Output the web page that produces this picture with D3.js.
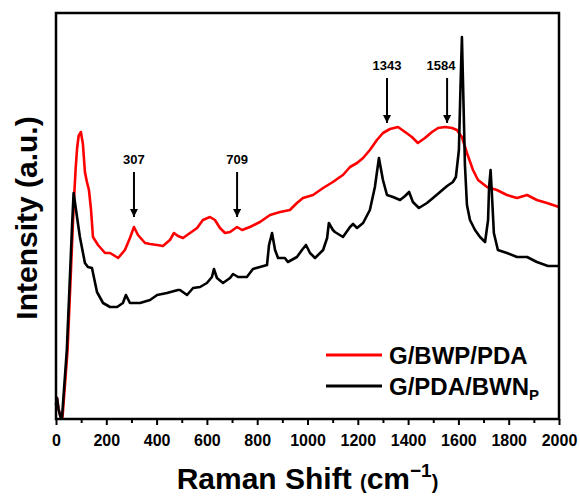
<!DOCTYPE html>
<html>
<head>
<meta charset="utf-8">
<script src="https://cdn.jsdelivr.net/npm/d3@7"></script>
<style>
    html, body { margin: 0; padding: 0; background: #fff; }
    #main { width: 580px; height: 497px; }
    text { font-family: "Liberation Sans", Arial, sans-serif; font-weight: bold; }
</style>
</head>
<body>
<div id="main"></div>
<script>
// spectra: [raman shift (cm-1), intensity (a.u.)]
const bwpPda = [
    [0, 14], [4, 21], [10, 10], [18, 2], [26, 2], [46, 69], [59, 146], [67, 194], [73, 226],
    [78, 250], [84, 271], [90, 283], [99, 287], [107, 275], [115, 247], [123, 237], [131, 229],
    [139, 210], [147, 182], [167, 174], [195, 166], [215, 166], [247, 161], [274, 169], [294, 181],
    [310, 192], [326, 184], [354, 176], [374, 175], [402, 174], [425, 173], [453, 179], [469, 186],
    [485, 183], [505, 181], [533, 186], [561, 191], [584, 199], [612, 202], [632, 199], [652, 191],
    [672, 186], [692, 187], [720, 192], [740, 189], [771, 192], [811, 197], [851, 204], [891, 207],
    [930, 209], [958, 216], [982, 221], [1022, 224], [1062, 231], [1101, 237], [1129, 242],
    [1141, 244], [1169, 252], [1197, 256], [1221, 261], [1248, 269], [1276, 279], [1300, 286],
    [1328, 290], [1360, 292], [1388, 287], [1415, 282], [1439, 276], [1467, 281], [1495, 287],
    [1519, 291], [1547, 292], [1575, 291], [1594, 289], [1614, 282], [1634, 266], [1658, 249],
    [1678, 239], [1714, 232], [1753, 229], [1793, 224], [1833, 221], [1873, 224], [1912, 219],
    [1952, 216], [2000, 212]
];

const pdaBwn = [
    [0, 14], [4, 21], [10, 10], [18, 2], [24, 2], [43, 69], [56, 146], [64, 194], [70, 226],
    [95, 182], [115, 156], [127, 152], [143, 151], [163, 127], [187, 116], [215, 112], [243, 112],
    [266, 116], [278, 124], [294, 116], [334, 116], [374, 119], [402, 124], [441, 126], [485, 129],
    [493, 129], [521, 124], [545, 131], [573, 132], [600, 136], [620, 142], [628, 150], [640, 141],
    [664, 136], [692, 141], [704, 145], [724, 142], [759, 142], [783, 150], [811, 152], [839, 154],
    [847, 174], [859, 186], [871, 169], [883, 161], [910, 161], [922, 157], [958, 162], [978, 169],
    [994, 174], [1010, 166], [1030, 161], [1062, 169], [1078, 181], [1085, 196], [1101, 189],
    [1109, 187], [1141, 182], [1169, 192], [1181, 195], [1197, 191], [1221, 196], [1248, 209],
    [1268, 232], [1284, 261], [1300, 239], [1316, 224], [1340, 222], [1368, 219], [1388, 223],
    [1404, 227], [1419, 217], [1443, 211], [1475, 216], [1499, 221], [1527, 227], [1555, 233],
    [1578, 237], [1590, 242], [1602, 269], [1608, 329], [1614, 382], [1620, 319], [1626, 254],
    [1634, 214], [1646, 199], [1666, 189], [1686, 182], [1706, 177], [1718, 199], [1722, 232],
    [1728, 249], [1733, 226], [1741, 186], [1757, 169], [1793, 166], [1833, 162], [1873, 162],
    [1912, 157], [1956, 153], [2000, 153]
];

const seriesNames = ["G/BWP/PDA", "G/PDA/BWN"];
const seriesSub = ["", "P"];
const seriesColors = ["#ff0000", "#000000"];

const xMajorTicks = [0, 200, 400, 600, 800, 1000, 1200, 1400, 1600, 1800, 2000];
const xMinorTicks = [100, 300, 500, 700, 900, 1100, 1300, 1500, 1700, 1900];

// arrow annotations
const peakLabels = ["307", "709", "1343", "1584"];
const peakArrowAt = [310, 720, 1316, 1555];
const peakArrowTop = [247, 247, 341, 341];
const peakArrowTip = [202, 202, 296, 296];

const chartCtx = {
    WIDTH: 580,
    HEIGHT: 497,
    LEFT: 56,
    TOP: 13,
    RIGHT: 559,
    BOTTOM: 419,
    LINE_WIDTH: 2.6
};

function drawChart() {

    let svg = d3.select("#main").append("svg")
        .attr("width", chartCtx.WIDTH)
        .attr("height", chartCtx.HEIGHT);

    let x = d3.scaleLinear().domain([0, 2000]).range([chartCtx.LEFT, chartCtx.RIGHT]);
    let y = d3.scaleLinear().domain([0, 406]).range([chartCtx.BOTTOM, chartCtx.TOP]);

    let line = d3.line()
        .x(d => x(d[0]))
        .y(d => y(d[1]));

    let plotG = svg.append("g");

    [bwpPda, pdaBwn].forEach(function(series, i) {
        plotG.append("path")
            .datum(series)
            .attr("d", line)
            .attr("fill", "none")
            .attr("stroke", seriesColors[i])
            .attr("stroke-width", chartCtx.LINE_WIDTH)
            .attr("stroke-linejoin", "round");
    });

    // frame
    svg.append("rect")
        .attr("x", chartCtx.LEFT)
        .attr("y", chartCtx.TOP)
        .attr("width", chartCtx.RIGHT - chartCtx.LEFT)
        .attr("height", chartCtx.BOTTOM - chartCtx.TOP)
        .attr("fill", "none")
        .attr("stroke", "#000")
        .attr("stroke-width", 2.5);

    let xAxis = svg.append("g")
        .attr("transform", `translate(0,${chartCtx.BOTTOM})`)
        .call(d3.axisBottom(x).tickValues(xMajorTicks).tickSize(6).tickPadding(10).tickFormat(d3.format("d")));
    xAxis.select(".domain").remove();
    xAxis.selectAll("line").attr("stroke-width", 2);
    xAxis.selectAll("text")
        .attr("font-size", 16)
        .attr("font-family", "Liberation Sans, Arial, sans-serif")
        .attr("font-weight", "bold")
        .attr("fill", "#000");

    let xMinor = svg.append("g")
        .attr("transform", `translate(0,${chartCtx.BOTTOM})`)
        .call(d3.axisBottom(x).tickValues(xMinorTicks).tickSize(4).tickFormat(""));
    xMinor.select(".domain").remove();
    xMinor.selectAll("line").attr("stroke-width", 2);

    // axis titles
    let xTitle = svg.append("text")
        .attr("x", (chartCtx.LEFT + chartCtx.RIGHT) / 2)
        .attr("y", 489)
        .attr("text-anchor", "middle")
        .attr("font-size", 30);
    xTitle.append("tspan").text("Raman Shift ");
    xTitle.append("tspan").attr("font-size", 20).text("(");
    xTitle.append("tspan").text("cm");
    xTitle.append("tspan").attr("font-size", 19).attr("dy", -12).text("\u22121");
    xTitle.append("tspan").attr("font-size", 20).attr("dy", 12).text(")");

    svg.append("text")
        .attr("transform", `translate(37,${(chartCtx.TOP + chartCtx.BOTTOM) / 2 + 2}) rotate(-90)`)
        .attr("text-anchor", "middle")
        .attr("font-size", 30)
        .text("Intensity (a.u.)");

    // peak arrows
    let defs = svg.append("defs");
    defs.append("marker")
        .attr("id", "arrowHead")
        .attr("viewBox", "0 0 10 10")
        .attr("refX", 10)
        .attr("refY", 5)
        .attr("markerUnits", "userSpaceOnUse")
        .attr("markerWidth", 8)
        .attr("markerHeight", 8)
        .attr("orient", "auto")
        .append("path")
        .attr("d", "M0,0L10,5L0,10Z")
        .attr("fill", "#000");

    peakLabels.forEach(function(label, i) {
        let ax = x(peakArrowAt[i]);
        svg.append("line")
            .attr("x1", ax).attr("x2", ax)
            .attr("y1", y(peakArrowTop[i]))
            .attr("y2", y(peakArrowTip[i]))
            .attr("stroke", "#000")
            .attr("stroke-width", 2)
            .attr("marker-end", "url(#arrowHead)");
        svg.append("text")
            .attr("x", ax - (i === 3 ? 6 : 0))
            .attr("y", y(peakArrowTop[i]) - 8)
            .attr("text-anchor", "middle")
            .attr("font-size", 13)
            .text(label);
    });

    // legend
    let legendG = svg.append("g").attr("transform", "translate(326,355)");
    seriesNames.forEach(function(name, i) {
        let rowG = legendG.append("g").attr("transform", `translate(0,${i * 31})`);
        rowG.append("line")
            .attr("x1", 0).attr("x2", 56)
            .attr("stroke", seriesColors[i])
            .attr("stroke-width", 3);
        let t = rowG.append("text")
            .attr("x", 63)
            .attr("y", 8.5)
            .attr("font-size", 24)
            .text(name);
        if (seriesSub[i]) {
            t.append("tspan")
                .attr("font-size", 15)
                .attr("dy", 5)
                .text(seriesSub[i]);
        }
    });
}

drawChart();
</script>
</body>
</html>
